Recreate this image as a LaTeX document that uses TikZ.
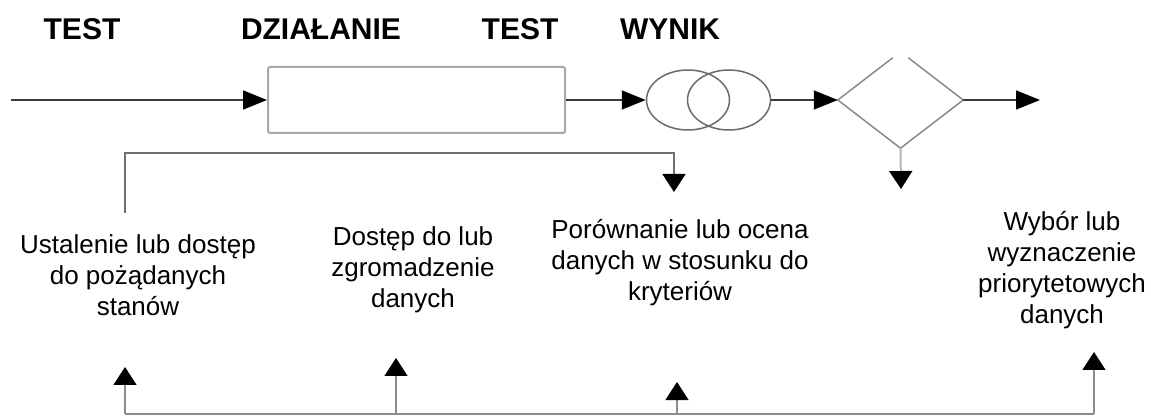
\documentclass[tikz,border=0pt]{standalone}
\usepackage{fontspec}
\setmainfont{Liberation Sans}
\usetikzlibrary{arrows.meta,shapes.geometric,calc}
\definecolor{flowdark}{HTML}{3A3A3A}
\definecolor{boxgray}{HTML}{A8A8A8}
\definecolor{ringgray}{HTML}{6A6A6A}
\definecolor{diagray}{HTML}{8A8A8A}
\definecolor{loopgray}{HTML}{707070}
\definecolor{stemgray}{HTML}{B4B4B4}
\definecolor{basegray}{HTML}{8C8C8C}
\begin{document}
\begin{tikzpicture}[x=1pt,y=-1pt,
  hhead/.style={-{Triangle[length=24pt,width=19pt,color=black]}},
  vhead/.style={-{Triangle[length=18pt,width=23pt,color=black]}},
  flow/.style={draw=flowdark,line width=1.6pt},
  title/.style={font=\fontsize{30}{36}\selectfont\bfseries,inner sep=0pt,anchor=base},
  note/.style={font=\fontsize{26}{31}\selectfont,align=center,inner sep=0pt,anchor=north},
  ]
\useasboundingbox (0,0) rectangle (1151,419);

% column headings
\node[title] (h1) at (82,40) {TEST};
\node[title] (h2) at (321,40) {DZIAŁANIE};
\node[title] (h3) at (520,40) {TEST};
\node[title] (h4) at (670,40) {WYNIK};

% main flow: action box, comparison rings, decision diamond
\node[draw=boxgray,line width=2pt,rounded corners=1.5pt,inner sep=0pt,
      minimum width=297pt,minimum height=66pt] (act) at (416.5,100) {};
\node[ellipse,draw=ringgray,line width=1.5pt,inner sep=0pt,
      minimum width=83pt,minimum height=60pt] (r1) at (688,100) {};
\node[ellipse,draw=ringgray,line width=1.5pt,inner sep=0pt,
      minimum width=83pt,minimum height=60pt] (r2) at (729,100) {};
\node[diamond,draw=none,inner sep=0pt,aspect=1.3,
      minimum width=125pt,minimum height=96pt] (dec) at (900.5,100) {};
\draw[draw=diagray,line width=1.5pt,line join=miter]
  ($(dec.west)!0.875!(dec.north)$) -- (dec.west) -- (dec.south) -- (dec.east)
  -- ($(dec.east)!0.875!(dec.north)$);

\coordinate (in) at (11,100);
\coordinate (out) at (1040,100);
\coordinate (down) at (901,189);
\draw[flow,hhead] (in) -- (act.west);
\draw[flow,hhead] (act.east) -- (r1.west);
\draw[flow,hhead] (r2.east) -- (dec.west);
\draw[flow,hhead] (dec.east) -- (out);
\draw[draw=stemgray,line width=2pt,vhead] (dec.south) -- (down);

% feedback from the first test to the comparison
\coordinate (fbstart) at (125,213);
\coordinate (fbcorner) at (674,153);
\coordinate (fbend) at (674,192);
\draw[draw=loopgray,line width=1.6pt,vhead] (fbstart) |- (fbcorner) -- (fbend);

% step descriptions
\node[note] (d1) at (138,234) {Ustalenie lub dostęp\\do pożądanych\\stanów};
\node[note] (d2) at (413,226) {Dostęp do lub\\zgromadzenie\\danych};
\node[note] (d3) at (680,219) {Porównanie lub ocena\\danych w stosunku do\\kryteriów};
\node[note] (d4) at (1062,211) {Wybór lub\\wyznaczenie\\priorytetowych\\danych};

% common base line with arrows up to each step
\coordinate (b1) at (125,414);
\coordinate (b2) at (396,414);
\coordinate (b3) at (677,414);
\coordinate (b4) at (1094,414);
\coordinate (t1) at (125,367);
\coordinate (t2) at (396,358);
\coordinate (t3) at (677,382);
\coordinate (t4) at (1094,352);
\draw[draw=basegray,line width=1.5pt] (b1) -- (b4);
\draw[draw=basegray,line width=1.5pt,vhead] (b1) -- (t1);
\draw[draw=basegray,line width=1.5pt,vhead] (b2) -- (t2);
\draw[draw=basegray,line width=1.5pt,vhead] (b3) -- (t3);
\draw[draw=basegray,line width=1.5pt,vhead] (b4) -- (t4);
\end{tikzpicture}
\end{document}
